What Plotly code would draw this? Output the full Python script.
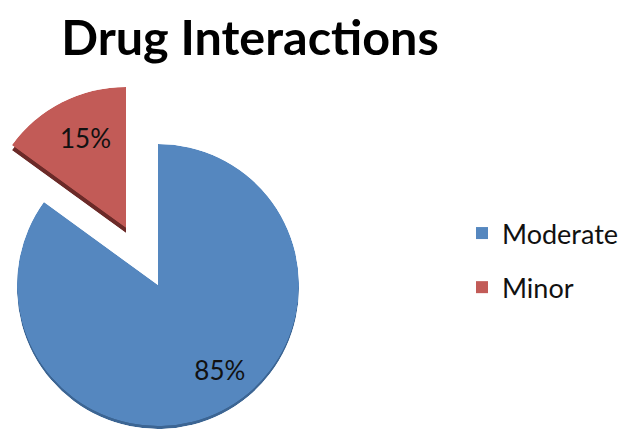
import math
import plotly.graph_objects as go

# ---- data ----
categories = ["Moderate", "Minor"]
values = [85, 15]
label_texts = ["85%", "15%"]

# ---- style ----
colors = ["#5587BF", "#C25B57"]
shadow_colors = ["#3C6593", "#6B2A28"]
label_r = [0.765, 0.68]
label_dtheta = [-8, 2]
W, H = 622, 429
R = 141
slice_centers = [(158, 285), (126, 228)]   # px, apex of each wedge
shadow_drop = [3, 5]                        # px
FONT = "Lato"

total = sum(values)
spans = [v / total * 360 for v in values]
starts = [sum(spans[:i]) for i in range(len(spans))]
mids = [s + sp / 2 for s, sp in zip(starts, spans)]


def sector_of(start, span):
    a0 = (90 - start - span) % 360
    return [a0, a0 + span]


def sector_bbox(sec):
    a0, a1 = sec
    pts = [(0.0, 0.0)]
    for a in (a0, a1):
        pts.append((math.cos(math.radians(a)), math.sin(math.radians(a))))
    k = math.ceil(a0 / 90) * 90
    while k <= a1:
        pts.append((math.cos(math.radians(k)), math.sin(math.radians(k))))
        k += 90
    xs = [p[0] for p in pts]
    ys = [p[1] for p in pts]
    return min(xs), max(xs), min(ys), max(ys)


def clamp(v):
    return min(1.0, max(0.0, v))


def domain_for(sec, cx, cy, r):
    bx0, bx1, by0, by1 = sector_bbox(sec)
    x0 = (cx + r * bx0) / W
    x1 = (cx + r * bx1) / W
    ytop = cy - r * by1
    ybot = cy - r * by0
    return dict(x=[clamp(x0), clamp(x1)], y=[clamp(1 - ybot / H), clamp(1 - ytop / H)])


fig = go.Figure()
layout_polars = {}
n = 1
for i, cat in enumerate(categories):
    sec = sector_of(starts[i], spans[i])
    cx, cy = slice_centers[i]
    for shadow in (True, False):
        key = "polar" if n == 1 else f"polar{n}"
        sub = key
        rr = R
        yy = cy + (shadow_drop[i] if shadow else 0)
        if shadow and yy + rr > H:
            rr = H - yy
        layout_polars[key] = dict(
            domain=domain_for(sec, cx, yy, rr),
            sector=sec,
            bgcolor="rgba(0,0,0,0)",
            radialaxis=dict(visible=False, range=[0, 1]),
            angularaxis=dict(visible=False, rotation=90, direction="clockwise"),
        )
        fig.add_trace(go.Barpolar(
            r=[1], theta=[mids[i]], width=[spans[i]],
            name=cat,
            marker=dict(color=shadow_colors[i] if shadow else colors[i],
                        line=dict(width=0)),
            showlegend=not shadow,
            legendgroup=cat,
            subplot=sub,
            hoverinfo="skip" if shadow else "name",
        ))
        if not shadow:
            fig.add_trace(go.Scatterpolar(
                r=[label_r[i]], theta=[mids[i] + label_dtheta[i]],
                mode="text", text=[label_texts[i]],
                textfont=dict(family=FONT, size=26, color="#111111"),
                showlegend=False, hoverinfo="skip", subplot=sub,
            ))
        n += 1

fig.update_layout(
    width=W, height=H,
    margin=dict(l=0, r=0, t=0, b=0, autoexpand=False),
    paper_bgcolor="white",
    plot_bgcolor="white",
    title=dict(
        text="Drug Interactions",
        x=250 / W, xanchor="center",
        y=1 - 38 / H, yanchor="middle", yref="container",
        font=dict(family=FONT, size=48.5, color="black", weight=700),
    ),
    legend=dict(
        x=462 / W, xanchor="left",
        y=1 - 209 / H, yanchor="top",
        font=dict(family=FONT, size=27, color="#111111"),
        tracegroupgap=16,
        bgcolor="rgba(0,0,0,0)",
    ),
    **layout_polars,
)

fig.write_html("out.html")
